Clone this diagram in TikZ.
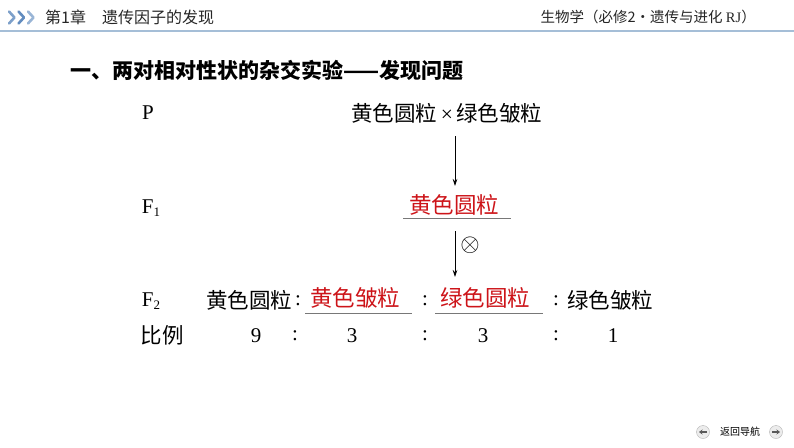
\documentclass[tikz,border=0pt]{standalone}
\usepackage{fontspec}
\setmainfont{Liberation Serif}
\newfontfamily\cjk{Noto Sans CJK SC}
\usetikzlibrary{arrows.meta}
\definecolor{redtxt}{RGB}{205,20,25}
\definecolor{lineblue}{RGB}{165,190,215}
\definecolor{chev}{RGB}{70,120,180}
\definecolor{ulgray}{RGB}{120,120,120}
\tikzset{
  txt/.style={inner sep=0pt, font=\fontsize{21.5}{24}\selectfont\cjk},
  lat/.style={inner sep=0pt, font=\fontsize{21}{24}\selectfont},
  red/.style={inner sep=0pt, font=\fontsize{22.5}{25}\selectfont\cjk, text=redtxt},
  ul/.style={draw=ulgray, line width=1pt},
  flow/.style={-{Stealth[length=7pt,width=4.5pt]}, line width=0.7pt},
  hdr/.style={inner sep=0pt, font=\fontsize{16}{18}\selectfont\cjk, text=black!85},
  chevron/.style={line width=2.6pt, line cap=round, line join=round}
}
\begin{document}
\begin{tikzpicture}[x=1pt,y=-1pt]
\useasboundingbox[fill=white] (0,0) rectangle (794,447);
% header
\draw[chevron, chev!70] (9,11.5) -- (14.5,17.5) -- (9,23.5);
\draw[chevron, chev!85] (18.5,11.5) -- (24,17.5) -- (18.5,23.5);
\draw[chevron, chev!55] (28,11.5) -- (33.5,17.5) -- (28,23.5);
\node[hdr, anchor=west] (chap) at (45,17) {第1章\quad 遗传因子的发现};
\node[hdr, anchor=east, font=\fontsize{14.5}{16}\selectfont\cjk] (book) at (756,17) {生物学（必修2·遗传与进化 {\rmfamily RJ}）};
\draw[lineblue, line width=1.5pt] (0,31) -- (794,31);
% title
\node[inner sep=0pt, anchor=west, font=\fontsize{21}{24}\selectfont\cjk\bfseries] (title) at (70,70) {一、两对相对性状的杂交实验——发现问题};
% P row
\node[lat] (P) at (148,113) {P};
\node[txt, anchor=west] (cross) at (351,113) {黄色圆粒{\rmfamily\,×\,}绿色皱粒};
% F1
\node[lat] (F1) at (151,208) {F{\fontsize{13}{14}\selectfont\raisebox{-3pt}{1}}};
\node[red] (f1t) at (454,205) {黄色圆粒};
\coordinate (u1a) at (403,218); \coordinate (u1b) at (511,218);
\draw[ul] (u1a) -- (u1b);
\coordinate (a1s) at (455,136); \coordinate (a1e) at (455,186);
\draw[flow] (a1s) -- (a1e);
\coordinate (a2s) at (455,231); \coordinate (a2e) at (455,277);
\draw[flow] (a2s) -- (a2e);
\node[inner sep=0pt, font=\fontsize{29}{32}\selectfont] (self) at (470,245) {$\otimes$};
% F2
\node[lat] (F2) at (151,301) {F{\fontsize{13}{14}\selectfont\raisebox{-3pt}{2}}};
\node[txt] (g1) at (249,300) {黄色圆粒};
\node[lat] (c1) at (298,301) {:};
\node[red] (g2) at (355,298) {黄色皱粒};
\draw[ul] (305,313) -- (412,313);
\node[lat] (c2) at (425,301) {:};
\node[red] (g3) at (485,298) {绿色圆粒};
\draw[ul] (435,313) -- (543,313);
\node[lat] (c3) at (556,301) {:};
\node[txt] (g4) at (610,300) {绿色皱粒};
% ratio
\node[txt] (bl) at (162,335) {比例};
\node[lat] (r1) at (256,336) {9};
\node[lat] (rc1) at (295,336) {:};
\node[lat] (r2) at (352,336) {3};
\node[lat] (rc2) at (425,336) {:};
\node[lat] (r3) at (483,336) {3};
\node[lat] (rc3) at (556,336) {:};
\node[lat] (r4) at (613,336) {1};
% footer
\node[circle, draw=gray!60, fill=gray!15, minimum size=13pt, inner sep=0pt] (back) at (703,432) {};
\draw[gray!70!black, line width=1.3pt, -{Stealth[length=3.5pt,width=5pt]}] ([xshift=4pt]back.center) -- ([xshift=-4pt]back.center);
\node[inner sep=0pt, font=\fontsize{10}{11}\selectfont\cjk] (nav) at (740,432) {返回导航};
\node[circle, draw=gray!60, fill=gray!15, minimum size=13pt, inner sep=0pt] (fwd) at (776,432) {};
\draw[gray!70!black, line width=1.3pt, -{Stealth[length=3.5pt,width=5pt]}] ([xshift=-4pt]fwd.center) -- ([xshift=4pt]fwd.center);
\end{tikzpicture}
\end{document}
